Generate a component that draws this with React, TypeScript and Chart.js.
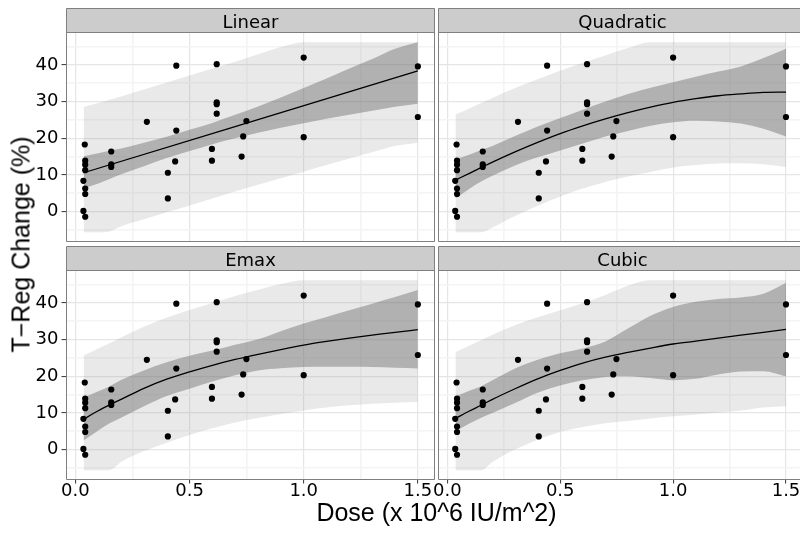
import React, { useEffect, useRef } from 'react';
import { Chart, registerables } from 'chart.js';

Chart.register(...registerables);

// ---------- observed data (shared by every panel) ----------
const doseObs = [0.041, 0.043, 0.043, 0.043, 0.035, 0.043, 0.043, 0.035, 0.043, 0.157, 0.157, 0.157, 0.313, 0.442, 0.442, 0.437, 0.405, 0.405, 0.619, 0.619, 0.619, 0.619, 0.598, 0.598, 0.749, 0.735, 0.728, 1.0, 1.0, 1.5, 1.5];
const tregObs = [18.3, 13.9, 12.8, 11.3, 8.4, 6.3, 4.8, 0.2, -1.4, 16.4, 12.9, 12.2, 24.5, 39.8, 22.1, 13.7, 10.6, 3.6, 40.2, 29.8, 29.3, 26.7, 17.1, 13.9, 24.7, 20.5, 15.0, 42.0, 20.3, 39.6, 25.8];

// ---------- dose grid for fitted curves and bands ----------
const gridDose = [0.036, 0.1, 0.15, 0.2, 0.3, 0.4, 0.5, 0.6, 0.7, 0.8, 0.9, 1.0, 1.1, 1.2, 1.3, 1.4, 1.5];

// Linear
const linearFitDose = [0.036, 1.5];
const linearFit = [10.6, 38.4];
const linearCiLower = [6.3, 7.7, 8.9, 10.2, 12.4, 14.6, 16.5, 18.4, 20.0, 21.5, 22.9, 24.1, 25.3, 26.4, 27.5, 28.6, 29.4];
const linearCiUpper = [15.1, 15.9, 16.6, 17.2, 18.8, 20.4, 22.3, 24.2, 26.4, 28.7, 31.1, 33.7, 36.3, 39.0, 41.6, 44.4, 46.2];
const linearPiLower = [-5.6, -5.6, -5.4, -4.0, -2.1, -0.2, 1.7, 3.6, 5.5, 7.3, 9.1, 10.9, 12.7, 14.5, 16.2, 17.9, 18.8];
const linearPiUpper = [28.5, 29.6, 30.5, 31.4, 33.3, 35.2, 37.1, 39.0, 40.9, 42.9, 44.9, 46.2, 46.2, 46.2, 46.2, 46.2, 46.2];

// Quadratic
const quadFit = [8.6, 10.5, 12.0, 13.5, 16.3, 18.9, 21.3, 23.4, 25.3, 27.0, 28.5, 29.8, 30.8, 31.6, 32.1, 32.5, 32.6];
const quadCiLower = [3.6, 6.3, 8.2, 9.8, 12.6, 14.8, 16.7, 18.6, 20.5, 22.0, 23.4, 24.4, 24.8, 24.6, 24.0, 22.6, 20.5];
const quadCiUpper = [14.3, 15.6, 16.8, 17.9, 20.6, 23.2, 25.5, 27.8, 30.0, 32.1, 33.8, 35.3, 36.8, 38.2, 39.6, 41.9, 44.4];
const quadPiLower = [-5.6, -5.6, -5.6, -4.3, -1.2, 1.6, 4.1, 6.3, 8.1, 9.6, 10.8, 12.0, 12.7, 13.1, 13.2, 12.9, 12.2];
const quadPiUpper = [26.5, 28.2, 29.6, 31.0, 33.7, 36.1, 38.4, 40.6, 42.6, 44.6, 46.2, 46.2, 46.2, 46.2, 46.2, 46.2, 46.2];

// Emax
const emaxFit = [8.3, 10.6, 12.2, 13.7, 16.7, 19.2, 21.2, 23.0, 24.6, 26.0, 27.3, 28.5, 29.5, 30.4, 31.2, 32.0, 32.7];
const emaxCiLower = [2.5, 5.2, 7.2, 8.7, 11.8, 14.6, 16.6, 18.6, 20.3, 21.6, 22.2, 22.5, 22.6, 22.6, 22.5, 22.3, 22.1];
const emaxCiUpper = [14.2, 15.9, 17.3, 19.0, 21.6, 23.8, 25.6, 27.0, 28.6, 30.1, 32.3, 34.4, 36.2, 38.0, 39.8, 41.6, 43.5];
const emaxPiLower = [-5.6, -5.6, -5.6, -3.4, -0.4, 1.9, 4.0, 5.8, 7.4, 8.6, 9.7, 10.7, 11.5, 12.1, 12.5, 12.8, 13.0];
const emaxPiUpper = [25.7, 27.6, 29.0, 30.6, 33.5, 36.0, 38.1, 40.0, 41.9, 43.6, 45.2, 46.2, 46.2, 46.2, 46.2, 46.2, 46.2];

// Cubic
const cubicFit = [8.5, 10.6, 12.1, 13.7, 16.6, 19.3, 21.6, 23.6, 25.2, 26.5, 27.7, 28.8, 29.6, 30.4, 31.2, 32.0, 32.8];
const cubicCiLower = [5.0, 7.2, 8.7, 10.0, 12.7, 15.5, 17.5, 18.9, 19.8, 20.0, 19.5, 18.9, 19.3, 20.5, 21.3, 21.4, 20.0];
const cubicCiUpper = [14.5, 16.1, 17.3, 18.9, 22.1, 24.5, 26.3, 27.6, 29.5, 33.0, 36.5, 38.9, 40.3, 41.1, 41.5, 42.5, 45.5];
const cubicPiLower = [-5.6, -5.6, -5.6, -3.4, 0.0, 2.7, 4.8, 6.2, 7.2, 7.8, 8.5, 9.1, 9.6, 10.1, 10.7, 11.5, 11.8];
const cubicPiUpper = [26.6, 28.4, 29.8, 31.3, 33.9, 36.1, 38.0, 40.0, 42.2, 44.7, 46.2, 46.2, 46.2, 46.2, 46.2, 46.2, 46.2];

// ---------- axis ticks ----------
const xTicks = [0, 0.25, 0.5, 0.75, 1, 1.25, 1.5];
const yTicks = [-5, 0, 5, 10, 15, 20, 25, 30, 35, 40, 45];

const panels = [
  { title: 'Linear', col: 0, row: 0, fitX: linearFitDose, fit: linearFit, ciLo: linearCiLower, ciHi: linearCiUpper, piLo: linearPiLower, piHi: linearPiUpper },
  { title: 'Quadratic', col: 1, row: 0, fitX: gridDose, fit: quadFit, ciLo: quadCiLower, ciHi: quadCiUpper, piLo: quadPiLower, piHi: quadPiUpper },
  { title: 'Emax', col: 0, row: 1, fitX: gridDose, fit: emaxFit, ciLo: emaxCiLower, ciHi: emaxCiUpper, piLo: emaxPiLower, piHi: emaxPiUpper },
  { title: 'Cubic', col: 1, row: 1, fitX: gridDose, fit: cubicFit, ciLo: cubicCiLower, ciHi: cubicCiUpper, piLo: cubicPiLower, piHi: cubicPiUpper },
];

// ---------- layout ----------
const W = 804;
const H = 535;
const COL_LEFT = [66.5, 438.5];
const COL_RIGHT = [434.5, 804];
const COL_OPEN_RIGHT = [false, true];
const COL_TEXT_CENTER = [250.5, 622.5];
const X_MIN = -0.039;
const COL_X_MAX = [1.573, 1.562];
const ROW_STRIP_TOP = [8.5, 246.5];
const ROW_TOP = [32.5, 270.5];
const ROW_BOTTOM = [241.5, 479.5];
const Y_MIN = -8.15;
const Y_MAX = 48.85;

const TICK_FONT = { family: "'DejaVu Sans'", size: 18, lineHeight: 1 };
const LIGHT = 'rgba(153,153,153,0.22)';
const DARK = 'rgba(100,100,100,0.42)';

const isMajorX = (v: number) => Math.abs(v * 2 - Math.round(v * 2)) < 1e-6;
const isMajorY = (v: number) => Math.abs(v / 10 - Math.round(v / 10)) < 1e-6;

const toPts = (xs: number[], ys: number[]) => xs.map((x, i) => ({ x, y: ys[i] }));

const panelDecor = {
  id: 'panelDecor',
  afterDraw(chart: any, _args: any, opts: any) {
    const { ctx, chartArea: a } = chart;
    const st = opts.stripTop;
    ctx.save();
    ctx.fillStyle = '#cccccc';
    ctx.fillRect(a.left, st, a.right - a.left, a.top - st);
    ctx.strokeStyle = '#7f7f7f';
    ctx.lineWidth = 1;
    ctx.beginPath();
    ctx.moveTo(a.right, st);
    ctx.lineTo(a.left, st);
    ctx.lineTo(a.left, a.bottom);
    ctx.lineTo(a.right, a.bottom);
    if (!opts.openRight) ctx.lineTo(a.right, st);
    ctx.moveTo(a.left, a.top);
    ctx.lineTo(a.right, a.top);
    ctx.stroke();
    ctx.fillStyle = '#000';
    ctx.font = "18px 'DejaVu Sans'";
    ctx.textAlign = 'center';
    ctx.textBaseline = 'alphabetic';
    ctx.fillText(opts.title, opts.textCenter, st + 19.7);
    ctx.restore();
  },
};

function makeConfig(p: any): any {
  const showX = p.row === 1;
  const showY = p.col === 0;
  const left = COL_LEFT[p.col];
  const right = COL_RIGHT[p.col];
  const top = ROW_TOP[p.row];
  const bottom = ROW_BOTTOM[p.row];
  // the axis boxes hold the labels (labels are clipped to them), so size them exactly
  const yAxisWidth = showY ? left : 0;
  const xAxisHeight = showX ? H - bottom : 0;
  const band = { borderWidth: 0, borderColor: 'rgba(0,0,0,0)', pointRadius: 0, cubicInterpolationMode: 'monotone' };
  return {
    type: 'line',
    data: {
      datasets: [
        { data: toPts(doseObs, tregObs), showLine: false, pointRadius: 3.1, pointBackgroundColor: '#000', pointBorderWidth: 0, borderColor: '#000' },
        { data: toPts(p.fitX, p.fit), borderColor: '#000', borderWidth: 1.3, pointRadius: 0, fill: false, cubicInterpolationMode: 'monotone' },
        { ...band, data: toPts(gridDose, p.ciLo), fill: false },
        { ...band, data: toPts(gridDose, p.ciHi), fill: 2, backgroundColor: DARK },
        { ...band, data: toPts(gridDose, p.piLo), fill: false },
        { ...band, data: toPts(gridDose, p.piHi), fill: 4, backgroundColor: LIGHT },
      ],
    },
    options: {
      animation: false,
      responsive: false,
      devicePixelRatio: 1,
      events: [],
      layout: { padding: { left: left - yAxisWidth, top, right: W - right, bottom: H - bottom - xAxisHeight } },
      plugins: {
        legend: { display: false },
        tooltip: { enabled: false },
        panelDecor: { title: p.title, stripTop: ROW_STRIP_TOP[p.row], openRight: COL_OPEN_RIGHT[p.col], textCenter: COL_TEXT_CENTER[p.col] },
      },
      scales: {
        x: {
          type: 'linear',
          min: X_MIN,
          max: COL_X_MAX[p.col],
          afterBuildTicks: (s: any) => { s.ticks = xTicks.map((v) => ({ value: v })); },
          afterFit: (s: any) => { s.height = xAxisHeight; s.paddingLeft = 0; s.paddingRight = 0; },
          border: { display: false },
          grid: {
            color: (c: any) => (isMajorX(c.tick.value) ? '#e5e5e5' : '#f4f4f4'),
            lineWidth: (c: any) => (isMajorX(c.tick.value) ? 1.2 : 1.6),
            drawTicks: showX,
            tickLength: 4,
            tickWidth: 1,
            tickColor: (c: any) => (isMajorX(c.tick.value) ? '#333333' : 'rgba(0,0,0,0)'),
          },
          ticks: {
            display: showX,
            autoSkip: false,
            maxRotation: 0,
            minRotation: 0,
            padding: -1.5,
            color: '#000',
            font: TICK_FONT,
            callback: (v: any) => (isMajorX(Number(v)) ? Number(v).toFixed(1) : ''),
          },
        },
        y: {
          type: 'linear',
          min: Y_MIN,
          max: Y_MAX,
          afterBuildTicks: (s: any) => { s.ticks = yTicks.map((v) => ({ value: v })); },
          afterFit: (s: any) => { s.width = yAxisWidth; s.paddingTop = 0; s.paddingBottom = 0; },
          border: { display: false },
          grid: {
            color: (c: any) => (isMajorY(c.tick.value) ? '#e5e5e5' : '#f4f4f4'),
            lineWidth: (c: any) => (isMajorY(c.tick.value) ? 1.2 : 1.6),
            drawTicks: showY,
            tickLength: 5,
            tickWidth: 1,
            tickColor: (c: any) => (isMajorY(c.tick.value) ? '#333333' : 'rgba(0,0,0,0)'),
          },
          ticks: {
            display: showY,
            autoSkip: false,
            padding: 3,
            color: '#000',
            font: TICK_FONT,
            callback: (v: any) => (isMajorY(Number(v)) ? String(Math.round(Number(v))) : ''),
          },
        },
      },
    },
    plugins: [panelDecor],
  };
}

export default function App() {
  const r0 = useRef<HTMLCanvasElement>(null);
  const r1 = useRef<HTMLCanvasElement>(null);
  const r2 = useRef<HTMLCanvasElement>(null);
  const r3 = useRef<HTMLCanvasElement>(null);
  const refs = [r0, r1, r2, r3];

  useEffect(() => {
    const charts = panels.map((p, i) => new Chart(refs[i].current as HTMLCanvasElement, makeConfig(p)));
    return () => charts.forEach((c) => c.destroy());
  }, []);

  const canvasStyle: React.CSSProperties = { position: 'absolute', left: 0, top: 0, width: W, height: H };
  const titleFont = "'Liberation Sans', Arial, sans-serif";

  return (
    <div style={{ position: 'absolute', left: 0, top: 0, width: W, height: H, overflow: 'hidden', background: '#fff' }}>
      {panels.map((p, i) => (
        <canvas key={p.title} ref={refs[i]} width={W} height={H} style={canvasStyle} />
      ))}
      <div
        style={{
          position: 'absolute', left: 236.5, top: 499.5, width: 400, height: 25, lineHeight: '25px',
          textAlign: 'center', fontFamily: titleFont, fontSize: 25, color: '#000', whiteSpace: 'nowrap',
        }}
      >
        Dose (x 10^6 IU/m^2)
      </div>
      <div
        style={{
          position: 'absolute', left: 21 - 200, top: 244 - 12.5, width: 400, height: 25, lineHeight: '25px',
          textAlign: 'center', fontFamily: titleFont, fontSize: 25, color: '#000', whiteSpace: 'nowrap',
          transform: 'rotate(-90deg)',
        }}
      >
        T−Reg Change (%)
      </div>
    </div>
  );
}
